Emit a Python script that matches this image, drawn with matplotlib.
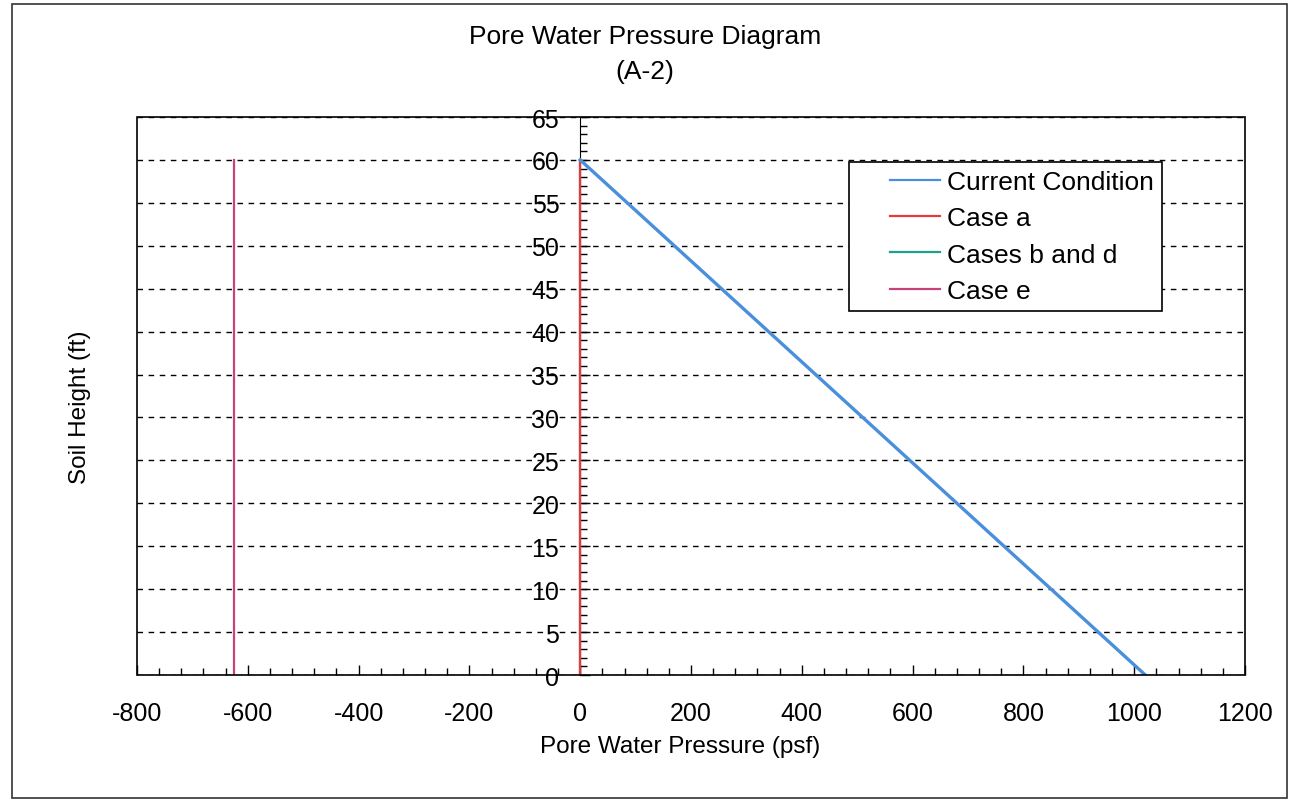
import matplotlib
matplotlib.use("Agg")
import matplotlib.pyplot as plt
from matplotlib.ticker import MultipleLocator
from matplotlib.patches import Rectangle
from matplotlib.lines import Line2D
from matplotlib.legend_handler import HandlerLine2D

plt.rcParams['font.family'] = ['Liberation Sans', 'DejaVu Sans']
plt.rcParams['axes.unicode_minus'] = False

# data
height = [60, 0]
current_pwp = [0, 1020]
case_a_pwp = [0, 0]
case_bd_pwp = [0, 0]
case_e_pwp = [-624, -624]

fig = plt.figure(figsize=(12.91, 8.04), dpi=100)
ax = fig.add_axes([0.1061, 0.1592, 0.8583, 0.6940])

ax.plot(case_bd_pwp, height, color='#1aa38a', lw=1.6, label='Cases b and d', zorder=3)
ax.plot(case_a_pwp, height, color='#e8383d', lw=1.6, label='Case a', zorder=4)
ax.plot(case_e_pwp, height, color='#c8407c', lw=1.6, label='Case e', zorder=3)
ax.plot(current_pwp, height, color='#4a8fdc', lw=2.4, label='Current Condition', zorder=5)

ax.set_xlim(-800, 1200)
ax.set_ylim(0, 65)
ax.xaxis.set_major_locator(MultipleLocator(200))
ax.xaxis.set_minor_locator(MultipleLocator(40))
ax.yaxis.set_major_locator(MultipleLocator(5))
ax.yaxis.set_minor_locator(MultipleLocator(1))

ax.grid(axis='y', which='major', color='black', ls=(0, (4, 4)), lw=1)

# y axis sits at x = 0, the frame is drawn separately
ax.spines['left'].set_position(('data', 0))
for s in ['top', 'right', 'bottom']:
    ax.spines[s].set_visible(False)
ax.add_patch(Rectangle((0, 0), 1, 1, transform=ax.transAxes, fill=False,
                       ec='black', lw=1.2, zorder=6, clip_on=False))

ax.tick_params(axis='both', which='major', direction='in', length=7, labelsize=18, width=1)
ax.tick_params(axis='both', which='minor', direction='in', length=5, width=1)
ax.tick_params(axis='x', pad=19)
ax.tick_params(axis='y', pad=15)

ax.set_xlabel('Pore Water Pressure (psf)', fontsize=17.5)
ax.xaxis.set_label_coords(0.49, -0.108)
ax.set_ylabel('Soil Height (ft)', fontsize=17.5)
ax.yaxis.set_label_coords(-0.0415, 0.482)

fig.text(0.4996, 0.954, 'Pore Water Pressure Diagram', ha='center', va='center', fontsize=19)
fig.text(0.4996, 0.911, '(A-2)', ha='center', va='center', fontsize=19)

handles, labels = ax.get_legend_handles_labels()
order = ['Current Condition', 'Case a', 'Cases b and d', 'Case e']
hmap = dict(zip(labels, handles))
leg = ax.legend([hmap[k] for k in order], order, loc='upper left',
                bbox_to_anchor=(0.6426, 0.9194), fontsize=19, frameon=True,
                fancybox=False, edgecolor='black', framealpha=1,
                handlelength=3.15, handletextpad=0.27, labelspacing=0.47,
                borderpad=0.3, borderaxespad=0,
                handler_map={Line2D: HandlerLine2D(xpad=1.25)})
leg.get_frame().set_linewidth(1.2)
leg.set_zorder(7)
for line in leg.get_lines():
    line.set_linewidth(1.6)

# outer chart border
fig.patches.append(Rectangle((0.0093, 0.0062), 0.9876, 0.9876,
                             transform=fig.transFigure, fill=False,
                             ec='#333333', lw=1.2))

fig.savefig('out.png', dpi=100)
